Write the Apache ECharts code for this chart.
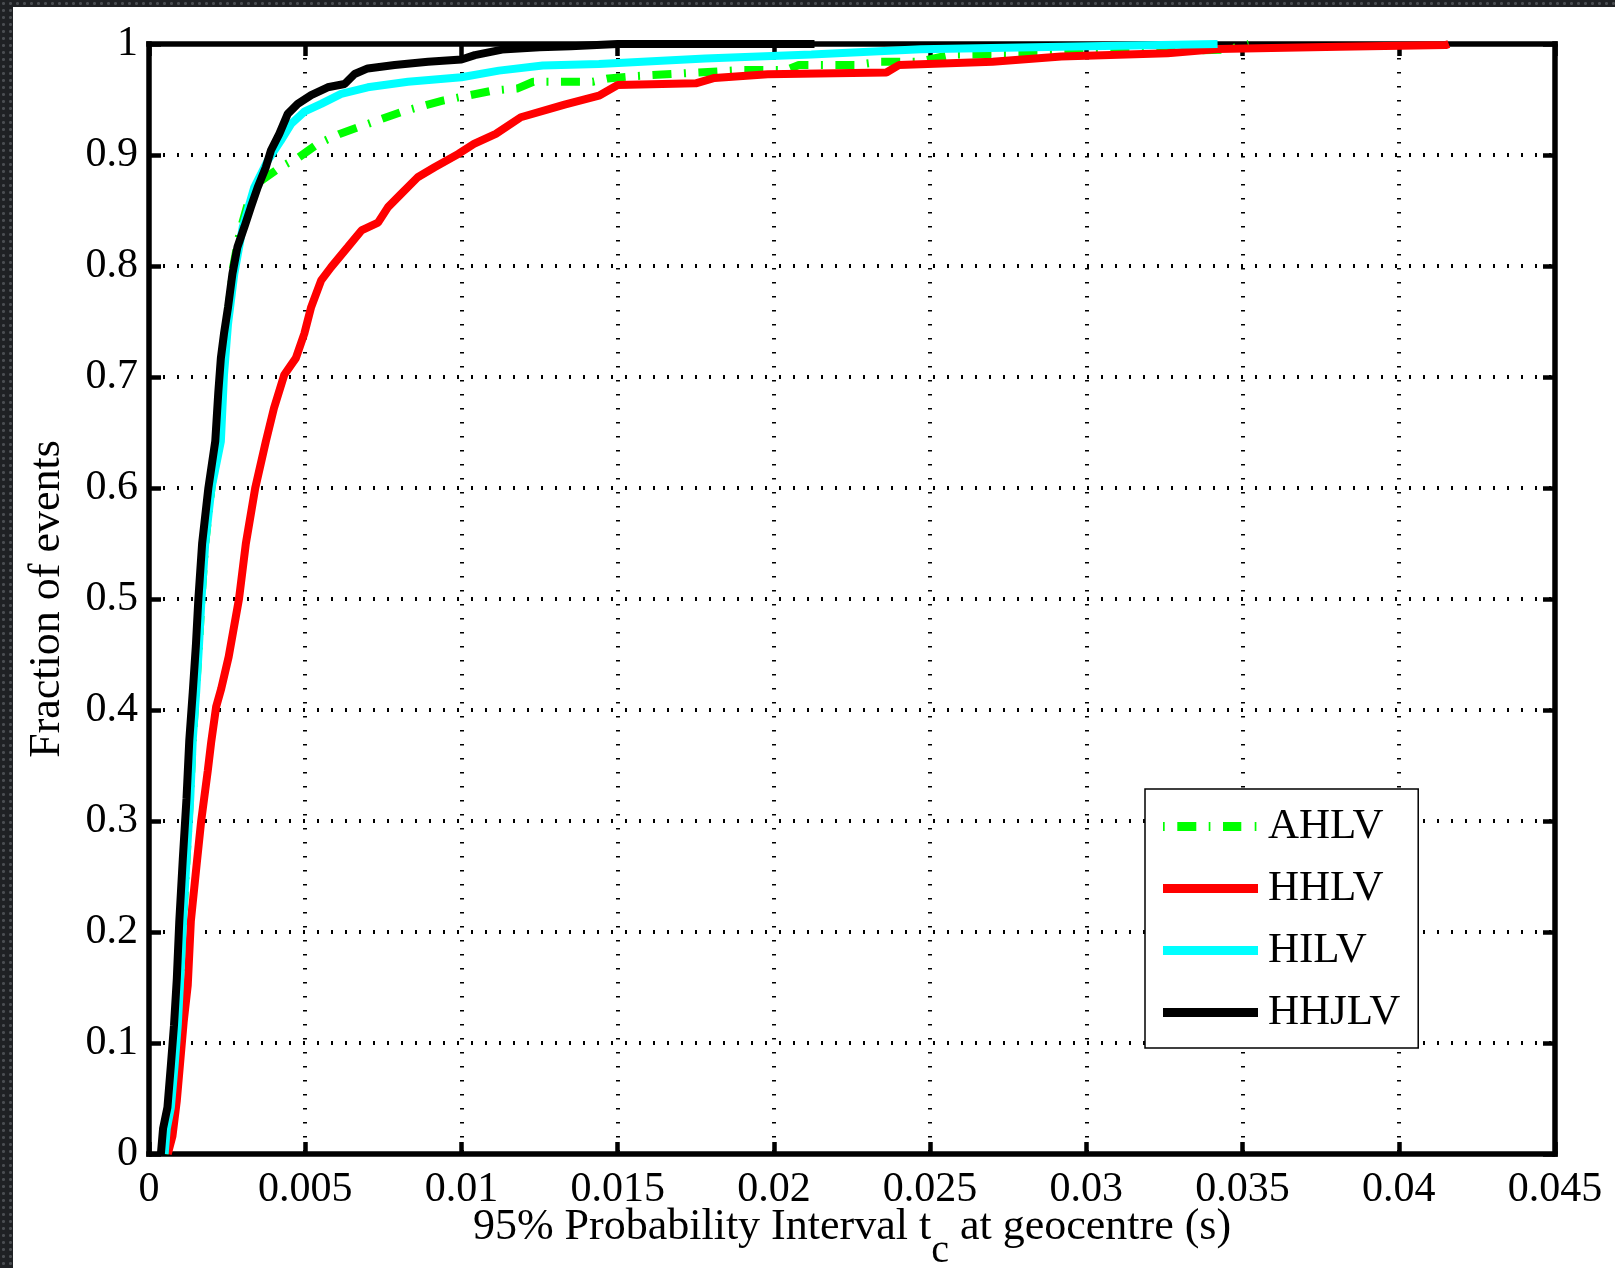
<!DOCTYPE html>
<html>
<head>
<meta charset="utf-8">
<script src="https://cdn.jsdelivr.net/npm/echarts@6/dist/echarts.min.js"></script>
<style>
  html, body { margin: 0; padding: 0; }
  body {
    width: 1615px; height: 1268px; overflow: hidden; position: relative;
    background: radial-gradient(circle, #4a4d51 1.2px, transparent 1.8px) 0 0 / 7px 7px, #1f2124;
  }
  #paper { position: absolute; left: 13px; top: 7px; width: 1602px; height: 1261px; background: #ffffff; }
  #chart { position: absolute; left: 0; top: 0; width: 1615px; height: 1268px; }
</style>
</head>
<body>
<div id="paper"></div>
<div id="chart"></div>
<script>
// ---- Data ----
const seriesNames = ['AHLV', 'HHLV', 'HILV', 'HHJLV'];

const xTickLabels = ['0', '0.005', '0.01', '0.015', '0.02', '0.025', '0.03', '0.035', '0.04', '0.045'];
const yTickLabels = ['0', '0.1', '0.2', '0.3', '0.4', '0.5', '0.6', '0.7', '0.8', '0.9', '1'];

// AHLV (green, dash-dot)
const ahlvX = [0.0005, 0.00058, 0.0007, 0.00082, 0.00092, 0.001, 0.00109, 0.0012, 0.00131, 0.0014, 0.0015, 0.0016, 0.00168, 0.0018, 0.002, 0.0022, 0.00235, 0.0025, 0.0027, 0.0029, 0.0032, 0.0036, 0.0042, 0.0048, 0.0054, 0.0061, 0.007, 0.0081, 0.0094, 0.011, 0.0118, 0.0123, 0.0142, 0.0147, 0.0155, 0.019, 0.0204, 0.0208, 0.0226, 0.0234, 0.0246, 0.0257, 0.0292, 0.0345, 0.0352];
const ahlvY = [0, 0.023, 0.042, 0.08, 0.116, 0.158, 0.21, 0.265, 0.32, 0.373, 0.416, 0.458, 0.5, 0.55, 0.6, 0.65, 0.7, 0.75, 0.8, 0.83, 0.86, 0.877, 0.889, 0.898, 0.91, 0.919, 0.928, 0.939, 0.949, 0.958, 0.96, 0.966, 0.966, 0.969, 0.971, 0.9766, 0.9766, 0.981, 0.981, 0.984, 0.984, 0.9905, 0.9913, 0.995, 1];

// HHLV (red)
const hhlvX = [0.0006, 0.00075, 0.00089, 0.00102, 0.00111, 0.00124, 0.00134, 0.00154, 0.00167, 0.00188, 0.00199, 0.00215, 0.00231, 0.00255, 0.00288, 0.0031, 0.0034, 0.00374, 0.004, 0.00433, 0.0047, 0.00497, 0.00519, 0.00551, 0.00583, 0.00636, 0.0068, 0.00733, 0.00765, 0.00807, 0.0086, 0.00914, 0.0099, 0.0104, 0.0111, 0.0119, 0.0133, 0.0144, 0.015, 0.0175, 0.0181, 0.0198, 0.0236, 0.024, 0.027, 0.0292, 0.0326, 0.0342, 0.0381, 0.0415, 0.0416];
const hhlvY = [0, 0.016, 0.048, 0.09, 0.119, 0.152, 0.21, 0.265, 0.3, 0.345, 0.371, 0.403, 0.419, 0.448, 0.5, 0.55, 0.6, 0.642, 0.672, 0.702, 0.717, 0.739, 0.763, 0.787, 0.799, 0.817, 0.832, 0.839, 0.853, 0.865, 0.88, 0.889, 0.901, 0.91, 0.919, 0.934, 0.9454, 0.9534, 0.963, 0.9646, 0.9694, 0.9727, 0.9743, 0.981, 0.984, 0.9888, 0.9916, 0.9955, 0.9975, 0.999, 1];

// HILV (cyan)
const hilvX = [0.0005, 0.00057, 0.0007, 0.00082, 0.00092, 0.001, 0.00109, 0.0012, 0.00132, 0.0014, 0.00151, 0.0016, 0.00168, 0.0018, 0.002, 0.0023, 0.0024, 0.00253, 0.00273, 0.003, 0.00337, 0.0038, 0.00422, 0.00455, 0.00497, 0.00551, 0.00615, 0.007, 0.00829, 0.01, 0.0112, 0.0126, 0.0144, 0.0178, 0.0212, 0.0247, 0.0292, 0.0342];
const hilvY = [0, 0.023, 0.042, 0.08, 0.116, 0.158, 0.21, 0.265, 0.32, 0.373, 0.416, 0.458, 0.5, 0.55, 0.6, 0.642, 0.702, 0.748, 0.793, 0.835, 0.871, 0.895, 0.913, 0.928, 0.939, 0.946, 0.955, 0.961, 0.966, 0.97, 0.976, 0.9807, 0.982, 0.987, 0.9905, 0.9952, 0.9975, 1];

// HHJLV (black)
const hhjlvX = [0.00038, 0.00045, 0.00059, 0.0007, 0.0008, 0.00089, 0.00097, 0.00108, 0.0012, 0.00129, 0.0014, 0.0015, 0.00158, 0.0017, 0.0019, 0.00212, 0.00222, 0.0023, 0.0024, 0.00253, 0.00267, 0.00283, 0.00305, 0.00326, 0.00348, 0.00374, 0.0039, 0.00417, 0.00444, 0.00476, 0.00519, 0.00572, 0.00626, 0.00658, 0.007, 0.00786, 0.00893, 0.01, 0.01043, 0.0113, 0.0125, 0.0135, 0.015, 0.0213];
const hhjlvY = [0, 0.023, 0.042, 0.08, 0.116, 0.158, 0.21, 0.265, 0.32, 0.373, 0.416, 0.458, 0.5, 0.55, 0.6, 0.642, 0.687, 0.717, 0.739, 0.763, 0.793, 0.817, 0.835, 0.853, 0.871, 0.889, 0.904, 0.919, 0.937, 0.946, 0.954, 0.961, 0.964, 0.973, 0.978, 0.981, 0.984, 0.986, 0.99, 0.995, 0.997, 0.998, 1, 1];

// ---- Chart ----
const FONT = '"Liberation Serif", "Times New Roman", serif';
function zip(xs, ys) { return xs.map((x, i) => [x, ys[i]]); }
function axisLine() { return { show: true, onZero: false, lineStyle: { color: '#000', width: 5.5, cap: 'square' } }; }
function axisTick() { return { show: true, inside: true, length: 12, lineStyle: { color: '#000', width: 4.5 } }; }

// legend icon for the dash-dot pattern (95 x 9 units)
const dashDotIcon = 'path://M0,0h1.7v9h-1.7z M14.3,0h19v9h-19z M45.7,0h1.7v9h-1.7z M60,0h18.3v9h-18.3z M91.7,0h1.7v9h-1.7z M95,0h0v9h0z';

const chart = echarts.init(document.getElementById('chart'), null, { renderer: 'canvas' });

const option = {
  animation: false,
  backgroundColor: 'transparent',
  grid: { left: 149, right: 60, top: 44, bottom: 114, containLabel: false, outerBoundsMode: 'none' },
  legend: {
    orient: 'vertical',
    left: 1145,
    top: 789,
    padding: [16, 18, 14, 18],
    itemWidth: 95,
    itemHeight: 9,
    itemGap: 19,
    borderColor: '#000',
    borderWidth: 1.5,
    backgroundColor: '#fff',
    selectedMode: false,
    itemStyle: { borderWidth: 0 },
    textStyle: { fontFamily: FONT, fontSize: 43, lineHeight: 43, color: '#000', padding: [0, 0, 0, 5] },
    data: [
      { name: seriesNames[0], icon: dashDotIcon, itemStyle: { color: '#00ff00', borderWidth: 0 } },
      { name: seriesNames[1], icon: 'rect', itemStyle: { color: '#ff0000', borderWidth: 0 } },
      { name: seriesNames[2], icon: 'rect', itemStyle: { color: '#00ffff', borderWidth: 0 } },
      { name: seriesNames[3], icon: 'rect', itemStyle: { color: '#000000', borderWidth: 0 } }
    ]
  },
  xAxis: [
    {
      type: 'value', position: 'bottom', min: 0, max: 0.045, interval: 0.005,
      axisLine: axisLine(),
      axisTick: axisTick(),
      axisLabel: {
        show: true, margin: 15, fontFamily: FONT, fontSize: 42, color: '#000',
        showMinLabel: true, showMaxLabel: true,
        formatter: v => xTickLabels[Math.round(v / 0.005)]
      },
      splitLine: { show: true, lineStyle: { color: '#000', width: 4, type: [1.5, 12.5] } },
      name: '95% Probability Interval t{c|c} at geocentre (s)',
      nameLocation: 'middle',
      nameGap: 29,
      nameMoveOverlap: false,
      nameTextStyle: {
        fontFamily: FONT, fontSize: 44, color: '#000',
        rich: { c: { fontFamily: FONT, fontSize: 40, color: '#000', padding: [48, 0, 0, 0] } }
      }
    },
    {
      type: 'value', position: 'top', min: 0, max: 0.045, interval: 0.005,
      axisLine: axisLine(),
      axisTick: axisTick(),
      axisLabel: { show: false },
      splitLine: { show: false }
    }
  ],
  yAxis: [
    {
      type: 'value', position: 'left', min: 0, max: 1, interval: 0.1,
      axisLine: axisLine(),
      axisTick: axisTick(),
      axisLabel: {
        show: true, margin: 11, fontFamily: FONT, fontSize: 42, color: '#000',
        showMinLabel: true, showMaxLabel: true,
        formatter: v => yTickLabels[Math.round(v / 0.1)]
      },
      splitLine: { show: true, lineStyle: { color: '#000', width: 4, type: [2, 12] } },
      name: 'Fraction of events',
      nameLocation: 'middle',
      nameGap: 80,
      nameMoveOverlap: false,
      nameRotate: 90,
      nameTextStyle: { fontFamily: FONT, fontSize: 44, color: '#000' }
    },
    {
      type: 'value', position: 'right', min: 0, max: 1, interval: 0.1,
      axisLine: axisLine(),
      axisTick: axisTick(),
      axisLabel: { show: false },
      splitLine: { show: false }
    }
  ],
  series: [
    {
      name: 'AHLV', type: 'line', xAxisIndex: 0, yAxisIndex: 0,
      data: zip(ahlvX, ahlvY), symbol: 'none', showSymbol: false, clip: false,
      itemStyle: { color: '#00ff00' },
      lineStyle: { color: '#00ff00', width: 8, type: [2, 12.5, 19, 12.5] }
    },
    {
      name: 'HHLV', type: 'line', xAxisIndex: 0, yAxisIndex: 0,
      data: zip(hhlvX, hhlvY), symbol: 'none', showSymbol: false, clip: false,
      itemStyle: { color: '#ff0000' },
      lineStyle: { color: '#ff0000', width: 8 }
    },
    {
      name: 'HILV', type: 'line', xAxisIndex: 0, yAxisIndex: 0,
      data: zip(hilvX, hilvY), symbol: 'none', showSymbol: false, clip: false,
      itemStyle: { color: '#00ffff' },
      lineStyle: { color: '#00ffff', width: 8 }
    },
    {
      name: 'HHJLV', type: 'line', xAxisIndex: 0, yAxisIndex: 0,
      data: zip(hhjlvX, hhjlvY), symbol: 'none', showSymbol: false, clip: false,
      itemStyle: { color: '#000000' },
      lineStyle: { color: '#000000', width: 8 }
    }
  ]
};

chart.setOption(option);
</script>
</body>
</html>
